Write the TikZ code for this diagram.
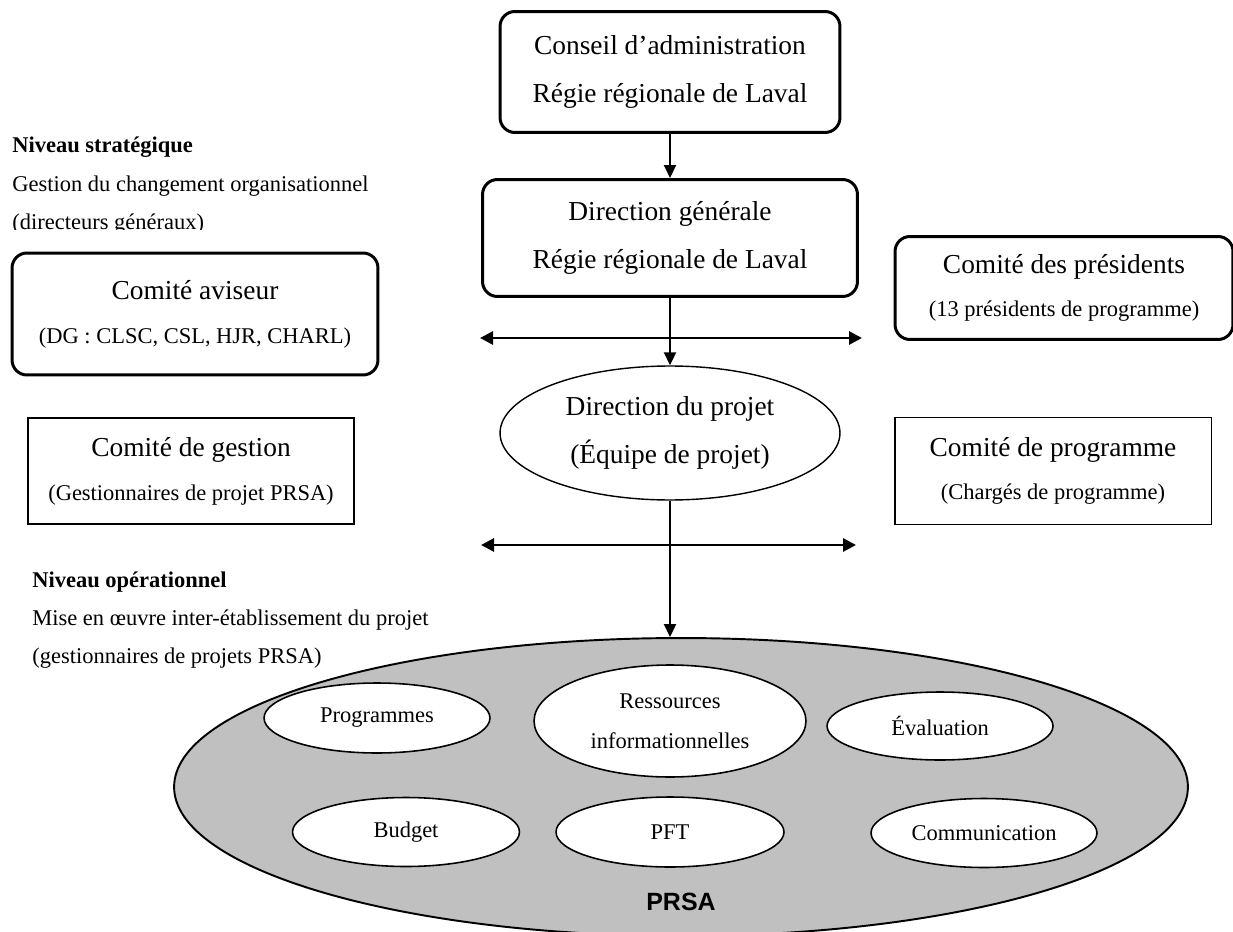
\documentclass[tikz,border=0pt]{standalone}
\usepackage{fontspec}
\setmainfont{Liberation Serif}
\setsansfont{Liberation Sans}
\usepackage{tikz}
\usetikzlibrary{shapes.geometric, arrows.meta, positioning}
\definecolor{PrsaGrey}{HTML}{C0C0C0}
\newcommand{\titlesize}{\fontsize{15.6}{27.2}\selectfont}
\newcommand{\notesize}{\fontsize{12.8}{21.8}\selectfont}
\tikzset{
  headbox/.style={rectangle, rounded corners=8.5pt, draw=black, line width=1.7pt, fill=white, align=center, inner sep=0pt, font=\titlesize},
  committeebox/.style={rectangle, rounded corners=8.5pt, draw=black, line width=1.7pt, fill=white, align=center, inner sep=0pt, font=\titlesize},
  plainbox/.style={rectangle, draw=black, line width=1.1pt, fill=white, align=center, inner sep=0pt, font=\titlesize},
  projellipse/.style={ellipse, draw=black, line width=0.8pt, fill=white, align=center, inner sep=0pt, font=\titlesize},
  unitellipse/.style={ellipse, draw=black, line width=0.9pt, fill=white, align=center, inner sep=0pt, font=\notesize},
  leveltext/.style={anchor=base west, inner sep=0pt, font=\notesize},
  arrow/.style={-{Triangle[length=0.26cm, width=0.24cm]}, line width=1.1pt},
  dblarrow/.style={{Triangle[length=0.26cm, width=0.26cm]}-{Triangle[length=0.26cm, width=0.26cm]}, line width=1.6pt}
}

\begin{document}
\begin{tikzpicture}[x=0.02cm, y=-0.02cm]
  \useasboundingbox (0,0) rectangle (1233,932);

  % top of the chain
  \node[headbox, minimum width=6.8cm, minimum height=2.42cm] (cons) at (670,72) {Conseil d’administration\\Régie régionale de Laval};
  \node[headbox, minimum width=7.5cm, minimum height=2.34cm] (dg) at (670,238) {Direction générale\\Régie régionale de Laval};

  % committees
  \node[committeebox, minimum width=7.32cm, minimum height=2.44cm] (cav) at (195,314) {Comité aviseur\\[-2.3pt]{\notesize (DG : CLSC, CSL, HJR, CHARL)}};
  \node[committeebox, minimum width=6.76cm, minimum height=2.06cm] (cpr) at (1064,288) {Comité des présidents\\[-2.3pt]{\notesize (13 présidents de programme)}};
  \node[plainbox, minimum width=6.52cm, minimum height=2.12cm] (cge) at (191,471) {Comité de gestion\\[-2.3pt]{\notesize (Gestionnaires de projet PRSA)}};
  \node[plainbox, minimum width=6.34cm, minimum height=2.14cm] (cpg) at (1053,471) {Comité de programme\\[-2.3pt]{\notesize (Chargés de programme)}};

  \node[projellipse, minimum width=6.8cm, minimum height=2.68cm] (proj) at (670,433) {Direction du projet\\(Équipe de projet)};

  % level labels
  \node[leveltext, font=\notesize\bfseries] (strat) at (12,153) {Niveau stratégique};
  \node[leveltext] (stratgoal) at (12,192) {Gestion du changement organisationnel};
  \begin{scope}
    \clip (0,200) rectangle (400,230);
    \node[leveltext] (stratwho) at (12,230) {(directeurs généraux)};
  \end{scope}
  \node[leveltext, font=\notesize\bfseries] (oper) at (32,587) {Niveau opérationnel};
  \node[leveltext] (opergoal) at (32,625) {Mise en œuvre inter-établissement du projet};
  \node[leveltext] (operwho) at (32,663) {(gestionnaires de projets PRSA)};

  % PRSA and its units
  \node[ellipse, draw=black, line width=1.1pt, fill=PrsaGrey, minimum width=20.28cm, minimum height=5.96cm, inner sep=0pt] (prsa) at (681,787) {};
  \node[font=\sffamily\bfseries\fontsize{14.2}{16}\selectfont, inner sep=0pt] (prsalabel) at (681,902) {PRSA};
  \node[unitellipse, minimum width=4.52cm, minimum height=1.4cm] (prog) at (377,718) {Programmes};
  \node[unitellipse, minimum width=5.44cm, minimum height=2.24cm, font=\fontsize{12.8}{22.5}\selectfont] (ress) at (670,721) {Ressources\\informationnelles};
  \node[unitellipse, minimum width=4.52cm, minimum height=1.36cm] (eval) at (940,726) {Évaluation};
  \node[unitellipse, minimum width=4.54cm, minimum height=1.38cm] (budg) at (406,832) {Budget};
  \node[unitellipse, minimum width=4.56cm, minimum height=1.4cm] (pft) at (670,832) {PFT};
  \node[unitellipse, minimum width=4.52cm, minimum height=1.38cm] (comm) at (984,833) {Communication};

  % links
  \coordinate (upleft) at (480,338);
  \coordinate (upright) at (862,338);
  \coordinate (lowleft) at (481,545);
  \coordinate (lowright) at (856,545);
  \draw[arrow] (cons) -- (dg);
  \draw[arrow] (dg) -- (proj);
  \draw[arrow] (proj) -- (proj.south |- prsa.north);
  \draw[dblarrow] (upleft) -- (upright);
  \draw[dblarrow] (lowleft) -- (lowright);
\end{tikzpicture}
\end{document}
